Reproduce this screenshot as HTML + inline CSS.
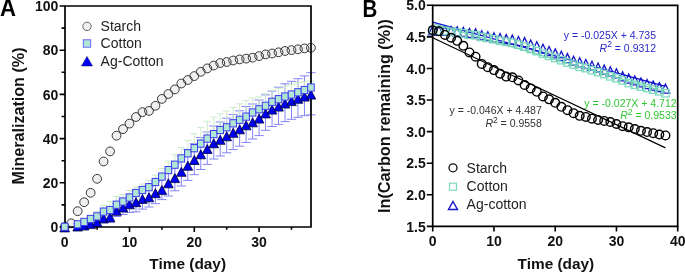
<!DOCTYPE html>
<html><head><meta charset="utf-8"><style>
html,body{margin:0;padding:0;background:#fff;overflow:hidden;}
svg{display:block;will-change:transform;}
</style></head><body>
<svg width="685" height="274" viewBox="0 0 685 274" font-family="'Liberation Sans', sans-serif">
<rect width="685" height="274" fill="#fff"/>
<circle cx="64.7" cy="227" r="4.4" fill="#f0f0f0"/>
<circle cx="71.18" cy="223.3" r="4.4" fill="#f0f0f0"/>
<circle cx="77.66" cy="211.2" r="4.4" fill="#f0f0f0"/>
<circle cx="84.14" cy="202.2" r="4.4" fill="#f0f0f0"/>
<circle cx="90.62" cy="192.8" r="4.4" fill="#f0f0f0"/>
<circle cx="97.1" cy="178.8" r="4.4" fill="#f0f0f0"/>
<circle cx="103.58" cy="161.5" r="4.4" fill="#f0f0f0"/>
<circle cx="110.06" cy="151.4" r="4.4" fill="#f0f0f0"/>
<circle cx="116.54" cy="135.7" r="4.4" fill="#f0f0f0"/>
<circle cx="123.02" cy="129.1" r="4.4" fill="#f0f0f0"/>
<circle cx="129.5" cy="123.6" r="4.4" fill="#f0f0f0"/>
<circle cx="135.98" cy="117" r="4.4" fill="#f0f0f0"/>
<circle cx="142.46" cy="112.1" r="4.4" fill="#f0f0f0"/>
<circle cx="148.94" cy="110.9" r="4.4" fill="#f0f0f0"/>
<circle cx="155.42" cy="105.8" r="4.4" fill="#f0f0f0"/>
<circle cx="161.9" cy="98.9" r="4.4" fill="#f0f0f0"/>
<circle cx="168.38" cy="94" r="4.4" fill="#f0f0f0"/>
<circle cx="174.86" cy="89.4" r="4.4" fill="#f0f0f0"/>
<circle cx="181.34" cy="83.5" r="4.4" fill="#f0f0f0"/>
<circle cx="187.82" cy="80" r="4.4" fill="#f0f0f0"/>
<circle cx="194.3" cy="76.1" r="4.4" fill="#f0f0f0"/>
<circle cx="200.78" cy="71.8" r="4.4" fill="#f0f0f0"/>
<circle cx="207.26" cy="68.4" r="4.4" fill="#f0f0f0"/>
<circle cx="213.74" cy="65.5" r="4.4" fill="#f0f0f0"/>
<circle cx="220.22" cy="63" r="4.4" fill="#f0f0f0"/>
<circle cx="226.7" cy="62" r="4.4" fill="#f0f0f0"/>
<circle cx="233.18" cy="60.5" r="4.4" fill="#f0f0f0"/>
<circle cx="239.66" cy="59.4" r="4.4" fill="#f0f0f0"/>
<circle cx="246.14" cy="58.6" r="4.4" fill="#f0f0f0"/>
<circle cx="252.62" cy="57.7" r="4.4" fill="#f0f0f0"/>
<circle cx="259.1" cy="56.1" r="4.4" fill="#f0f0f0"/>
<circle cx="265.58" cy="54.4" r="4.4" fill="#f0f0f0"/>
<circle cx="272.06" cy="53.5" r="4.4" fill="#f0f0f0"/>
<circle cx="278.54" cy="52.3" r="4.4" fill="#f0f0f0"/>
<circle cx="285.02" cy="51" r="4.4" fill="#f0f0f0"/>
<circle cx="291.5" cy="50.1" r="4.4" fill="#f0f0f0"/>
<circle cx="297.98" cy="49.3" r="4.4" fill="#f0f0f0"/>
<circle cx="304.46" cy="48.4" r="4.4" fill="#f0f0f0"/>
<circle cx="310.94" cy="47.8" r="4.4" fill="#f0f0f0"/>
<circle cx="64.7" cy="227" r="4.4" fill="none" stroke="#383838" stroke-width="1"/>
<circle cx="71.18" cy="223.3" r="4.4" fill="none" stroke="#383838" stroke-width="1"/>
<circle cx="77.66" cy="211.2" r="4.4" fill="none" stroke="#383838" stroke-width="1"/>
<circle cx="84.14" cy="202.2" r="4.4" fill="none" stroke="#383838" stroke-width="1"/>
<circle cx="90.62" cy="192.8" r="4.4" fill="none" stroke="#383838" stroke-width="1"/>
<circle cx="97.1" cy="178.8" r="4.4" fill="none" stroke="#383838" stroke-width="1"/>
<circle cx="103.58" cy="161.5" r="4.4" fill="none" stroke="#383838" stroke-width="1"/>
<circle cx="110.06" cy="151.4" r="4.4" fill="none" stroke="#383838" stroke-width="1"/>
<circle cx="116.54" cy="135.7" r="4.4" fill="none" stroke="#383838" stroke-width="1"/>
<circle cx="123.02" cy="129.1" r="4.4" fill="none" stroke="#383838" stroke-width="1"/>
<circle cx="129.5" cy="123.6" r="4.4" fill="none" stroke="#383838" stroke-width="1"/>
<circle cx="135.98" cy="117" r="4.4" fill="none" stroke="#383838" stroke-width="1"/>
<circle cx="142.46" cy="112.1" r="4.4" fill="none" stroke="#383838" stroke-width="1"/>
<circle cx="148.94" cy="110.9" r="4.4" fill="none" stroke="#383838" stroke-width="1"/>
<circle cx="155.42" cy="105.8" r="4.4" fill="none" stroke="#383838" stroke-width="1"/>
<circle cx="161.9" cy="98.9" r="4.4" fill="none" stroke="#383838" stroke-width="1"/>
<circle cx="168.38" cy="94" r="4.4" fill="none" stroke="#383838" stroke-width="1"/>
<circle cx="174.86" cy="89.4" r="4.4" fill="none" stroke="#383838" stroke-width="1"/>
<circle cx="181.34" cy="83.5" r="4.4" fill="none" stroke="#383838" stroke-width="1"/>
<circle cx="187.82" cy="80" r="4.4" fill="none" stroke="#383838" stroke-width="1"/>
<circle cx="194.3" cy="76.1" r="4.4" fill="none" stroke="#383838" stroke-width="1"/>
<circle cx="200.78" cy="71.8" r="4.4" fill="none" stroke="#383838" stroke-width="1"/>
<circle cx="207.26" cy="68.4" r="4.4" fill="none" stroke="#383838" stroke-width="1"/>
<circle cx="213.74" cy="65.5" r="4.4" fill="none" stroke="#383838" stroke-width="1"/>
<circle cx="220.22" cy="63" r="4.4" fill="none" stroke="#383838" stroke-width="1"/>
<circle cx="226.7" cy="62" r="4.4" fill="none" stroke="#383838" stroke-width="1"/>
<circle cx="233.18" cy="60.5" r="4.4" fill="none" stroke="#383838" stroke-width="1"/>
<circle cx="239.66" cy="59.4" r="4.4" fill="none" stroke="#383838" stroke-width="1"/>
<circle cx="246.14" cy="58.6" r="4.4" fill="none" stroke="#383838" stroke-width="1"/>
<circle cx="252.62" cy="57.7" r="4.4" fill="none" stroke="#383838" stroke-width="1"/>
<circle cx="259.1" cy="56.1" r="4.4" fill="none" stroke="#383838" stroke-width="1"/>
<circle cx="265.58" cy="54.4" r="4.4" fill="none" stroke="#383838" stroke-width="1"/>
<circle cx="272.06" cy="53.5" r="4.4" fill="none" stroke="#383838" stroke-width="1"/>
<circle cx="278.54" cy="52.3" r="4.4" fill="none" stroke="#383838" stroke-width="1"/>
<circle cx="285.02" cy="51" r="4.4" fill="none" stroke="#383838" stroke-width="1"/>
<circle cx="291.5" cy="50.1" r="4.4" fill="none" stroke="#383838" stroke-width="1"/>
<circle cx="297.98" cy="49.3" r="4.4" fill="none" stroke="#383838" stroke-width="1"/>
<circle cx="304.46" cy="48.4" r="4.4" fill="none" stroke="#383838" stroke-width="1"/>
<circle cx="310.94" cy="47.8" r="4.4" fill="none" stroke="#383838" stroke-width="1"/>
<path d="M77.66 223.7V227.7M73.06 223.7H82.26M73.06 227.7H82.26M84.14 221.7V227.7M79.54 221.7H88.74M79.54 227.7H88.74M90.62 219.3V227.3M86.02 219.3H95.22M86.02 227.3H95.22M97.1 216.3V226.3M92.5 216.3H101.7M92.5 226.3H101.7M103.58 212V223M98.98 212H108.18M98.98 223H108.18M110.06 210.4V222.4M105.46 210.4H114.66M105.46 222.4H114.66M116.54 203.5V216.5M111.94 203.5H121.14M111.94 216.5H121.14M123.02 198.9V214.5M118.42 198.9H127.62M118.42 214.5H127.62M129.5 194.5V212.5M124.9 194.5H134.1M124.9 212.5H134.1M135.98 190.9V211.9M131.38 190.9H140.58M131.38 211.9H140.58M142.46 187.1V209.1M137.86 187.1H147.06M137.86 209.1H147.06M148.94 186V207M144.34 186H153.54M144.34 207H153.54M155.42 181.1V203.7M150.82 181.1H160.02M150.82 203.7H160.02M161.9 178.6V199.6M157.3 178.6H166.5M157.3 199.6H166.5M168.38 169V196M163.78 169H172.98M163.78 196H172.98M174.86 163.8V190.8M170.26 163.8H179.46M170.26 190.8H179.46M181.34 156V186M176.74 156H185.94M176.74 186H185.94M187.82 149.4V180.4M183.22 149.4H192.42M183.22 180.4H192.42M194.3 143.7V174.7M189.7 143.7H198.9M189.7 174.7H198.9M200.78 137.5V169.5M196.18 137.5H205.38M196.18 169.5H205.38M207.26 132V164.4M202.66 132H211.86M202.66 164.4H211.86M213.74 126V159M209.14 126H218.34M209.14 159H218.34M220.22 122V156M215.62 122H224.82M215.62 156H224.82M226.7 118.2V152.8M222.1 118.2H231.3M222.1 152.8H231.3M233.18 114.4V149.6M228.58 114.4H237.78M228.58 149.6H237.78M239.66 110.8V146.2M235.06 110.8H244.26M235.06 146.2H244.26M246.14 106.5V142.5M241.54 106.5H250.74M241.54 142.5H250.74M252.62 104V139M248.02 104H257.22M248.02 139H257.22M259.1 100V135.6M254.5 100H263.7M254.5 135.6H263.7M265.58 94.9V130.3M260.98 94.9H270.18M260.98 130.3H270.18M272.06 91.1V126.5M267.46 91.1H276.66M267.46 126.5H276.66M278.54 87.2V124.4M273.94 87.2H283.14M273.94 124.4H283.14M285.02 83.8V121.6M280.42 83.8H289.62M280.42 121.6H289.62M291.5 81.3V119.3M286.9 81.3H296.1M286.9 119.3H296.1M297.98 78.7V117.3M293.38 78.7H302.58M293.38 117.3H302.58M304.46 75.9V115.7M299.86 75.9H309.06M299.86 115.7H309.06M310.94 72.7V114.9M306.34 72.7H315.54M306.34 114.9H315.54" stroke="#8484f6" stroke-width="1" fill="none"/>
<path d="M97.1 211.4V216.4M93.4 211.4H100.8M103.58 205.3V211.6M99.88 205.3H107.28M110.06 201.4V210M106.36 201.4H113.76M116.54 196.5V204.7M112.84 196.5H120.24M123.02 194.3V201.5M119.32 194.3H126.72M129.5 190.5V197.5M125.8 190.5H133.2M135.98 187V193M132.28 187H139.68M142.46 184V190M138.76 184H146.16M148.94 180.7V187.2M145.24 180.7H152.64M155.42 175V182M151.72 175H159.12M161.9 168.6V176.6M158.2 168.6H165.6M168.38 161.1V170.1M164.68 161.1H172.08M174.86 154.7V164.7M171.16 154.7H178.56M181.34 147.7V158.4M177.64 147.7H185.04M187.82 140.3V153.3M184.12 140.3H191.52M194.3 133.8V148.2M190.6 133.8H198M200.78 127.4V143.6M197.08 127.4H204.48M207.26 121.3V138.6M203.56 121.3H210.96M213.74 117.1V134.1M210.04 117.1H217.44M220.22 113.8V130M216.52 113.8H223.92M226.7 111.1V127.3M223 111.1H230.4M233.18 107.3V123.3M229.48 107.3H236.88M239.66 103.8V119.8M235.96 103.8H243.36M246.14 100.5V116.6M242.44 100.5H249.84M252.62 98.1V112.5M248.92 98.1H256.32M259.1 96.8V109.3M255.4 96.8H262.8M265.58 93.8V105.8M261.88 93.8H269.28M272.06 90.3V101.8M268.36 90.3H275.76M278.54 88.2V99.2M274.84 88.2H282.24M285.02 86V96.5M281.32 86H288.72M291.5 84.5V94.5M287.8 84.5H295.2M297.98 82.7V92.3M294.28 82.7H301.68M304.46 81.7V90M300.76 81.7H308.16M310.94 81V87.5M307.24 81H314.64" stroke="#cbeccb" stroke-width="1" fill="none"/>
<path d="M65 6V227H311V6Z" fill="none" stroke="#000" stroke-width="1.7"/>
<path d="M59.6 227H65M61.6 204.9H65M59.6 182.8H65M61.6 160.7H65M59.6 138.6H65M61.6 116.5H65M59.6 94.4H65M61.6 72.3H65M59.6 50.2H65M61.6 28.1H65M59.6 6H65M64.7 227V232M97.1 227V229.8M129.5 227V232M161.9 227V229.8M194.3 227V232M226.7 227V229.8M259.1 227V232M291.5 227V229.8" stroke="#000" stroke-width="1.6" fill="none"/>
<text x="58.3" y="232.1" font-size="14" font-weight="bold" text-anchor="end" fill="#111">0</text>
<text x="58.3" y="187.9" font-size="14" font-weight="bold" text-anchor="end" fill="#111">20</text>
<text x="58.3" y="143.7" font-size="14" font-weight="bold" text-anchor="end" fill="#111">40</text>
<text x="58.3" y="99.5" font-size="14" font-weight="bold" text-anchor="end" fill="#111">60</text>
<text x="58.3" y="55.3" font-size="14" font-weight="bold" text-anchor="end" fill="#111">80</text>
<text x="58.3" y="11.1" font-size="14" font-weight="bold" text-anchor="end" fill="#111">100</text>
<text x="64.7" y="246.6" font-size="14" font-weight="bold" text-anchor="middle" fill="#111">0</text>
<text x="129.5" y="246.6" font-size="14" font-weight="bold" text-anchor="middle" fill="#111">10</text>
<text x="194.3" y="246.6" font-size="14" font-weight="bold" text-anchor="middle" fill="#111">20</text>
<text x="259.1" y="246.6" font-size="14" font-weight="bold" text-anchor="middle" fill="#111">30</text>
<text x="187.7" y="269.2" font-size="15.4" font-weight="bold" text-anchor="middle" fill="#111">Time (day)</text>
<text transform="translate(23.8 116) rotate(-90)" x="0" y="0" font-size="16" font-weight="bold" text-anchor="middle" textLength="137" lengthAdjust="spacingAndGlyphs" fill="#111">Mineralization (%)</text>
<text x="0" y="15.8" font-size="23.2" font-weight="bold" fill="#000" textLength="16" lengthAdjust="spacingAndGlyphs">A</text>
<path d="M64.7 222.9L69.5 231.9L59.9 231.9Z" fill="#0000f0" stroke="#00003c" stroke-width="0.8"/>
<path d="M77.66 222L82.46 231L72.86 231Z" fill="#0000f0" stroke="#00003c" stroke-width="0.8"/>
<path d="M84.14 221L88.94 230L79.34 230Z" fill="#0000f0" stroke="#00003c" stroke-width="0.8"/>
<path d="M90.62 219.6L95.42 228.6L85.82 228.6Z" fill="#0000f0" stroke="#00003c" stroke-width="0.8"/>
<path d="M97.1 217.6L101.9 226.6L92.3 226.6Z" fill="#0000f0" stroke="#00003c" stroke-width="0.8"/>
<path d="M103.58 213.8L108.38 222.8L98.78 222.8Z" fill="#0000f0" stroke="#00003c" stroke-width="0.8"/>
<path d="M110.06 212.7L114.86 221.7L105.26 221.7Z" fill="#0000f0" stroke="#00003c" stroke-width="0.8"/>
<path d="M116.54 206.3L121.34 215.3L111.74 215.3Z" fill="#0000f0" stroke="#00003c" stroke-width="0.8"/>
<path d="M123.02 203L127.82 212L118.22 212Z" fill="#0000f0" stroke="#00003c" stroke-width="0.8"/>
<path d="M129.5 199.8L134.3 208.8L124.7 208.8Z" fill="#0000f0" stroke="#00003c" stroke-width="0.8"/>
<path d="M135.98 197.7L140.78 206.7L131.18 206.7Z" fill="#0000f0" stroke="#00003c" stroke-width="0.8"/>
<path d="M142.46 194.4L147.26 203.4L137.66 203.4Z" fill="#0000f0" stroke="#00003c" stroke-width="0.8"/>
<path d="M148.94 192.8L153.74 201.8L144.14 201.8Z" fill="#0000f0" stroke="#00003c" stroke-width="0.8"/>
<path d="M155.42 188.7L160.22 197.7L150.62 197.7Z" fill="#0000f0" stroke="#00003c" stroke-width="0.8"/>
<path d="M161.9 185.4L166.7 194.4L157.1 194.4Z" fill="#0000f0" stroke="#00003c" stroke-width="0.8"/>
<path d="M168.38 178.8L173.18 187.8L163.58 187.8Z" fill="#0000f0" stroke="#00003c" stroke-width="0.8"/>
<path d="M174.86 173.6L179.66 182.6L170.06 182.6Z" fill="#0000f0" stroke="#00003c" stroke-width="0.8"/>
<path d="M181.34 167.3L186.14 176.3L176.54 176.3Z" fill="#0000f0" stroke="#00003c" stroke-width="0.8"/>
<path d="M187.82 161.2L192.62 170.2L183.02 170.2Z" fill="#0000f0" stroke="#00003c" stroke-width="0.8"/>
<path d="M194.3 155.5L199.1 164.5L189.5 164.5Z" fill="#0000f0" stroke="#00003c" stroke-width="0.8"/>
<path d="M200.78 149.8L205.58 158.8L195.98 158.8Z" fill="#0000f0" stroke="#00003c" stroke-width="0.8"/>
<path d="M207.26 144.5L212.06 153.5L202.46 153.5Z" fill="#0000f0" stroke="#00003c" stroke-width="0.8"/>
<path d="M213.74 138.8L218.54 147.8L208.94 147.8Z" fill="#0000f0" stroke="#00003c" stroke-width="0.8"/>
<path d="M220.22 135.3L225.02 144.3L215.42 144.3Z" fill="#0000f0" stroke="#00003c" stroke-width="0.8"/>
<path d="M226.7 131.8L231.5 140.8L221.9 140.8Z" fill="#0000f0" stroke="#00003c" stroke-width="0.8"/>
<path d="M233.18 128.3L237.98 137.3L228.38 137.3Z" fill="#0000f0" stroke="#00003c" stroke-width="0.8"/>
<path d="M239.66 124.8L244.46 133.8L234.86 133.8Z" fill="#0000f0" stroke="#00003c" stroke-width="0.8"/>
<path d="M246.14 120.8L250.94 129.8L241.34 129.8Z" fill="#0000f0" stroke="#00003c" stroke-width="0.8"/>
<path d="M252.62 117.8L257.42 126.8L247.82 126.8Z" fill="#0000f0" stroke="#00003c" stroke-width="0.8"/>
<path d="M259.1 114.1L263.9 123.1L254.3 123.1Z" fill="#0000f0" stroke="#00003c" stroke-width="0.8"/>
<path d="M265.58 108.9L270.38 117.9L260.78 117.9Z" fill="#0000f0" stroke="#00003c" stroke-width="0.8"/>
<path d="M272.06 105.1L276.86 114.1L267.26 114.1Z" fill="#0000f0" stroke="#00003c" stroke-width="0.8"/>
<path d="M278.54 102.1L283.34 111.1L273.74 111.1Z" fill="#0000f0" stroke="#00003c" stroke-width="0.8"/>
<path d="M285.02 99L289.82 108L280.22 108Z" fill="#0000f0" stroke="#00003c" stroke-width="0.8"/>
<path d="M291.5 96.6L296.3 105.6L286.7 105.6Z" fill="#0000f0" stroke="#00003c" stroke-width="0.8"/>
<path d="M297.98 94.3L302.78 103.3L293.18 103.3Z" fill="#0000f0" stroke="#00003c" stroke-width="0.8"/>
<path d="M304.46 92.1L309.26 101.1L299.66 101.1Z" fill="#0000f0" stroke="#00003c" stroke-width="0.8"/>
<path d="M310.94 90.1L315.74 99.1L306.14 99.1Z" fill="#0000f0" stroke="#00003c" stroke-width="0.8"/>
<rect x="61.4" y="223.2" width="6.6" height="7.2" fill="#b2e6d4" stroke="#3a3aee" stroke-width="1"/>
<rect x="74.36" y="220.7" width="6.6" height="7.2" fill="#b2e6d4" stroke="#3a3aee" stroke-width="1"/>
<rect x="80.84" y="218.3" width="6.6" height="7.2" fill="#b2e6d4" stroke="#3a3aee" stroke-width="1"/>
<rect x="87.32" y="215.4" width="6.6" height="7.2" fill="#b2e6d4" stroke="#3a3aee" stroke-width="1"/>
<rect x="93.8" y="212.8" width="6.6" height="7.2" fill="#b2e6d4" stroke="#3a3aee" stroke-width="1"/>
<rect x="100.28" y="208" width="6.6" height="7.2" fill="#b2e6d4" stroke="#3a3aee" stroke-width="1"/>
<rect x="106.76" y="206.4" width="6.6" height="7.2" fill="#b2e6d4" stroke="#3a3aee" stroke-width="1"/>
<rect x="113.24" y="201.1" width="6.6" height="7.2" fill="#b2e6d4" stroke="#3a3aee" stroke-width="1"/>
<rect x="119.72" y="197.9" width="6.6" height="7.2" fill="#b2e6d4" stroke="#3a3aee" stroke-width="1"/>
<rect x="126.2" y="193.9" width="6.6" height="7.2" fill="#b2e6d4" stroke="#3a3aee" stroke-width="1"/>
<rect x="132.68" y="189.4" width="6.6" height="7.2" fill="#b2e6d4" stroke="#3a3aee" stroke-width="1"/>
<rect x="139.16" y="186.4" width="6.6" height="7.2" fill="#b2e6d4" stroke="#3a3aee" stroke-width="1"/>
<rect x="145.64" y="183.6" width="6.6" height="7.2" fill="#b2e6d4" stroke="#3a3aee" stroke-width="1"/>
<rect x="152.12" y="178.4" width="6.6" height="7.2" fill="#b2e6d4" stroke="#3a3aee" stroke-width="1"/>
<rect x="158.6" y="173" width="6.6" height="7.2" fill="#b2e6d4" stroke="#3a3aee" stroke-width="1"/>
<rect x="165.08" y="166.5" width="6.6" height="7.2" fill="#b2e6d4" stroke="#3a3aee" stroke-width="1"/>
<rect x="171.56" y="161.1" width="6.6" height="7.2" fill="#b2e6d4" stroke="#3a3aee" stroke-width="1"/>
<rect x="178.04" y="154.8" width="6.6" height="7.2" fill="#b2e6d4" stroke="#3a3aee" stroke-width="1"/>
<rect x="184.52" y="149.7" width="6.6" height="7.2" fill="#b2e6d4" stroke="#3a3aee" stroke-width="1"/>
<rect x="191" y="144.6" width="6.6" height="7.2" fill="#b2e6d4" stroke="#3a3aee" stroke-width="1"/>
<rect x="197.48" y="140" width="6.6" height="7.2" fill="#b2e6d4" stroke="#3a3aee" stroke-width="1"/>
<rect x="203.96" y="135" width="6.6" height="7.2" fill="#b2e6d4" stroke="#3a3aee" stroke-width="1"/>
<rect x="210.44" y="130.5" width="6.6" height="7.2" fill="#b2e6d4" stroke="#3a3aee" stroke-width="1"/>
<rect x="216.92" y="126.4" width="6.6" height="7.2" fill="#b2e6d4" stroke="#3a3aee" stroke-width="1"/>
<rect x="223.4" y="123.7" width="6.6" height="7.2" fill="#b2e6d4" stroke="#3a3aee" stroke-width="1"/>
<rect x="229.88" y="119.7" width="6.6" height="7.2" fill="#b2e6d4" stroke="#3a3aee" stroke-width="1"/>
<rect x="236.36" y="116.2" width="6.6" height="7.2" fill="#b2e6d4" stroke="#3a3aee" stroke-width="1"/>
<rect x="242.84" y="113" width="6.6" height="7.2" fill="#b2e6d4" stroke="#3a3aee" stroke-width="1"/>
<rect x="249.32" y="108.9" width="6.6" height="7.2" fill="#b2e6d4" stroke="#3a3aee" stroke-width="1"/>
<rect x="255.8" y="105.7" width="6.6" height="7.2" fill="#b2e6d4" stroke="#3a3aee" stroke-width="1"/>
<rect x="262.28" y="102.2" width="6.6" height="7.2" fill="#b2e6d4" stroke="#3a3aee" stroke-width="1"/>
<rect x="268.76" y="98.2" width="6.6" height="7.2" fill="#b2e6d4" stroke="#3a3aee" stroke-width="1"/>
<rect x="275.24" y="95.6" width="6.6" height="7.2" fill="#b2e6d4" stroke="#3a3aee" stroke-width="1"/>
<rect x="281.72" y="92.9" width="6.6" height="7.2" fill="#b2e6d4" stroke="#3a3aee" stroke-width="1"/>
<rect x="288.2" y="90.9" width="6.6" height="7.2" fill="#b2e6d4" stroke="#3a3aee" stroke-width="1"/>
<rect x="294.68" y="88.7" width="6.6" height="7.2" fill="#b2e6d4" stroke="#3a3aee" stroke-width="1"/>
<rect x="301.16" y="86.4" width="6.6" height="7.2" fill="#b2e6d4" stroke="#3a3aee" stroke-width="1"/>
<rect x="307.64" y="83.9" width="6.6" height="7.2" fill="#b2e6d4" stroke="#3a3aee" stroke-width="1"/>
<circle cx="87" cy="26.4" r="4.2" fill="#efefef" stroke="#555" stroke-width="0.9"/>
<rect x="83.3" y="39.8" width="7.4" height="7.4" fill="#b2e6d4" stroke="#5a5aff" stroke-width="0.9"/>
<path d="M87 56.45L92.5 65.95L81.5 65.95Z" fill="#0000f0" stroke="#000060" stroke-width="0.5"/>
<text x="100.6" y="31.2" font-size="14" fill="#222">Starch</text>
<text x="100.6" y="48.3" font-size="14" fill="#222">Cotton</text>
<text x="100.6" y="65.5" font-size="14" fill="#222">Ag-Cotton</text>
<g>
<path d="M432.7 25.75L437 34.75L428.4 34.75Z" fill="none" stroke="#1414c4" stroke-width="1.3"/>
<path d="M438.82 26.03L443.12 35.03L434.52 35.03Z" fill="none" stroke="#1414c4" stroke-width="1.3"/>
<path d="M444.95 26.12L449.25 35.12L440.65 35.12Z" fill="none" stroke="#1414c4" stroke-width="1.3"/>
<path d="M451.07 26.41L455.38 35.41L446.77 35.41Z" fill="none" stroke="#1414c4" stroke-width="1.3"/>
<path d="M457.2 26.81L461.5 35.81L452.9 35.81Z" fill="none" stroke="#1414c4" stroke-width="1.3"/>
<path d="M463.32 27.4L467.62 36.4L459.02 36.4Z" fill="none" stroke="#1414c4" stroke-width="1.3"/>
<path d="M469.45 28.52L473.75 37.52L465.15 37.52Z" fill="none" stroke="#1414c4" stroke-width="1.3"/>
<path d="M475.57 28.85L479.88 37.85L471.27 37.85Z" fill="none" stroke="#1414c4" stroke-width="1.3"/>
<path d="M481.7 30.8L486 39.8L477.4 39.8Z" fill="none" stroke="#1414c4" stroke-width="1.3"/>
<path d="M487.82 31.83L492.12 40.83L483.52 40.83Z" fill="none" stroke="#1414c4" stroke-width="1.3"/>
<path d="M493.95 32.85L498.25 41.85L489.65 41.85Z" fill="none" stroke="#1414c4" stroke-width="1.3"/>
<path d="M500.07 33.52L504.38 42.52L495.77 42.52Z" fill="none" stroke="#1414c4" stroke-width="1.3"/>
<path d="M506.2 34.6L510.5 43.6L501.9 43.6Z" fill="none" stroke="#1414c4" stroke-width="1.3"/>
<path d="M512.33 35.13L516.62 44.13L508.03 44.13Z" fill="none" stroke="#1414c4" stroke-width="1.3"/>
<path d="M518.45 36.5L522.75 45.5L514.15 45.5Z" fill="none" stroke="#1414c4" stroke-width="1.3"/>
<path d="M524.58 37.63L528.88 46.63L520.28 46.63Z" fill="none" stroke="#1414c4" stroke-width="1.3"/>
<path d="M530.7 39.95L535 48.95L526.4 48.95Z" fill="none" stroke="#1414c4" stroke-width="1.3"/>
<path d="M536.83 41.84L541.12 50.84L532.53 50.84Z" fill="none" stroke="#1414c4" stroke-width="1.3"/>
<path d="M542.95 44.21L547.25 53.21L538.65 53.21Z" fill="none" stroke="#1414c4" stroke-width="1.3"/>
<path d="M549.08 46.59L553.38 55.59L544.78 55.59Z" fill="none" stroke="#1414c4" stroke-width="1.3"/>
<path d="M555.2 48.89L559.5 57.89L550.9 57.89Z" fill="none" stroke="#1414c4" stroke-width="1.3"/>
<path d="M561.33 51.29L565.62 60.29L557.03 60.29Z" fill="none" stroke="#1414c4" stroke-width="1.3"/>
<path d="M567.45 53.6L571.75 62.6L563.15 62.6Z" fill="none" stroke="#1414c4" stroke-width="1.3"/>
<path d="M573.58 56.18L577.88 65.18L569.28 65.18Z" fill="none" stroke="#1414c4" stroke-width="1.3"/>
<path d="M579.7 57.82L584 66.82L575.4 66.82Z" fill="none" stroke="#1414c4" stroke-width="1.3"/>
<path d="M585.83 59.51L590.12 68.51L581.53 68.51Z" fill="none" stroke="#1414c4" stroke-width="1.3"/>
<path d="M591.95 61.24L596.25 70.24L587.65 70.24Z" fill="none" stroke="#1414c4" stroke-width="1.3"/>
<path d="M598.08 63.02L602.38 72.02L593.78 72.02Z" fill="none" stroke="#1414c4" stroke-width="1.3"/>
<path d="M604.2 65.12L608.5 74.12L599.9 74.12Z" fill="none" stroke="#1414c4" stroke-width="1.3"/>
<path d="M610.33 66.74L614.62 75.74L606.03 75.74Z" fill="none" stroke="#1414c4" stroke-width="1.3"/>
<path d="M616.45 68.79L620.75 77.79L612.15 77.79Z" fill="none" stroke="#1414c4" stroke-width="1.3"/>
<path d="M622.58 71.8L626.88 80.8L618.28 80.8Z" fill="none" stroke="#1414c4" stroke-width="1.3"/>
<path d="M628.7 74.1L633 83.1L624.4 83.1Z" fill="none" stroke="#1414c4" stroke-width="1.3"/>
<path d="M634.83 75.97L639.12 84.97L630.53 84.97Z" fill="none" stroke="#1414c4" stroke-width="1.3"/>
<path d="M640.95 77.96L645.25 86.96L636.65 86.96Z" fill="none" stroke="#1414c4" stroke-width="1.3"/>
<path d="M647.08 79.55L651.38 88.55L642.78 88.55Z" fill="none" stroke="#1414c4" stroke-width="1.3"/>
<path d="M653.2 81.11L657.5 90.11L648.9 90.11Z" fill="none" stroke="#1414c4" stroke-width="1.3"/>
<path d="M659.33 82.64L663.62 91.64L655.03 91.64Z" fill="none" stroke="#1414c4" stroke-width="1.3"/>
<path d="M665.45 84.06L669.75 93.06L661.15 93.06Z" fill="none" stroke="#1414c4" stroke-width="1.3"/>
<path d="M432.7 22.19L665.45 86.33" stroke="#1010d0" stroke-width="1.2"/>
<rect x="429" y="26.55" width="7.4" height="7.4" fill="none" stroke="#80dcc0" stroke-width="1.3"/>
<rect x="435.12" y="26.98" width="7.4" height="7.4" fill="none" stroke="#80dcc0" stroke-width="1.3"/>
<rect x="441.25" y="27.32" width="7.4" height="7.4" fill="none" stroke="#80dcc0" stroke-width="1.3"/>
<rect x="447.38" y="28.02" width="7.4" height="7.4" fill="none" stroke="#80dcc0" stroke-width="1.3"/>
<rect x="453.5" y="28.88" width="7.4" height="7.4" fill="none" stroke="#80dcc0" stroke-width="1.3"/>
<rect x="459.62" y="29.65" width="7.4" height="7.4" fill="none" stroke="#80dcc0" stroke-width="1.3"/>
<rect x="465.75" y="31.11" width="7.4" height="7.4" fill="none" stroke="#80dcc0" stroke-width="1.3"/>
<rect x="471.88" y="31.6" width="7.4" height="7.4" fill="none" stroke="#80dcc0" stroke-width="1.3"/>
<rect x="478" y="33.27" width="7.4" height="7.4" fill="none" stroke="#80dcc0" stroke-width="1.3"/>
<rect x="484.12" y="34.29" width="7.4" height="7.4" fill="none" stroke="#80dcc0" stroke-width="1.3"/>
<rect x="490.25" y="35.6" width="7.4" height="7.4" fill="none" stroke="#80dcc0" stroke-width="1.3"/>
<rect x="496.38" y="37.1" width="7.4" height="7.4" fill="none" stroke="#80dcc0" stroke-width="1.3"/>
<rect x="502.5" y="38.12" width="7.4" height="7.4" fill="none" stroke="#80dcc0" stroke-width="1.3"/>
<rect x="508.63" y="39.09" width="7.4" height="7.4" fill="none" stroke="#80dcc0" stroke-width="1.3"/>
<rect x="514.75" y="40.93" width="7.4" height="7.4" fill="none" stroke="#80dcc0" stroke-width="1.3"/>
<rect x="520.88" y="42.9" width="7.4" height="7.4" fill="none" stroke="#80dcc0" stroke-width="1.3"/>
<rect x="527" y="45.35" width="7.4" height="7.4" fill="none" stroke="#80dcc0" stroke-width="1.3"/>
<rect x="533.12" y="47.46" width="7.4" height="7.4" fill="none" stroke="#80dcc0" stroke-width="1.3"/>
<rect x="539.25" y="50.02" width="7.4" height="7.4" fill="none" stroke="#80dcc0" stroke-width="1.3"/>
<rect x="545.38" y="52.17" width="7.4" height="7.4" fill="none" stroke="#80dcc0" stroke-width="1.3"/>
<rect x="551.5" y="54.4" width="7.4" height="7.4" fill="none" stroke="#80dcc0" stroke-width="1.3"/>
<rect x="557.62" y="56.48" width="7.4" height="7.4" fill="none" stroke="#80dcc0" stroke-width="1.3"/>
<rect x="563.75" y="58.82" width="7.4" height="7.4" fill="none" stroke="#80dcc0" stroke-width="1.3"/>
<rect x="569.88" y="61" width="7.4" height="7.4" fill="none" stroke="#80dcc0" stroke-width="1.3"/>
<rect x="576" y="63.05" width="7.4" height="7.4" fill="none" stroke="#80dcc0" stroke-width="1.3"/>
<rect x="582.12" y="64.44" width="7.4" height="7.4" fill="none" stroke="#80dcc0" stroke-width="1.3"/>
<rect x="588.25" y="66.56" width="7.4" height="7.4" fill="none" stroke="#80dcc0" stroke-width="1.3"/>
<rect x="594.38" y="68.47" width="7.4" height="7.4" fill="none" stroke="#80dcc0" stroke-width="1.3"/>
<rect x="600.5" y="70.28" width="7.4" height="7.4" fill="none" stroke="#80dcc0" stroke-width="1.3"/>
<rect x="606.62" y="72.66" width="7.4" height="7.4" fill="none" stroke="#80dcc0" stroke-width="1.3"/>
<rect x="612.75" y="74.59" width="7.4" height="7.4" fill="none" stroke="#80dcc0" stroke-width="1.3"/>
<rect x="618.88" y="76.77" width="7.4" height="7.4" fill="none" stroke="#80dcc0" stroke-width="1.3"/>
<rect x="625" y="79.35" width="7.4" height="7.4" fill="none" stroke="#80dcc0" stroke-width="1.3"/>
<rect x="631.12" y="81.09" width="7.4" height="7.4" fill="none" stroke="#80dcc0" stroke-width="1.3"/>
<rect x="637.25" y="82.95" width="7.4" height="7.4" fill="none" stroke="#80dcc0" stroke-width="1.3"/>
<rect x="643.38" y="84.36" width="7.4" height="7.4" fill="none" stroke="#80dcc0" stroke-width="1.3"/>
<rect x="649.5" y="85.95" width="7.4" height="7.4" fill="none" stroke="#80dcc0" stroke-width="1.3"/>
<rect x="655.62" y="87.65" width="7.4" height="7.4" fill="none" stroke="#80dcc0" stroke-width="1.3"/>
<rect x="661.75" y="89.56" width="7.4" height="7.4" fill="none" stroke="#80dcc0" stroke-width="1.3"/>
<path d="M432.7 23.49L665.45 91.85" stroke="#70d4b4" stroke-width="1.2"/>
<circle cx="432.7" cy="30.25" r="4.3" fill="none" stroke="#000" stroke-width="1.4"/>
<circle cx="438.82" cy="31.31" r="4.3" fill="none" stroke="#000" stroke-width="1.4"/>
<circle cx="444.95" cy="34.93" r="4.3" fill="none" stroke="#000" stroke-width="1.4"/>
<circle cx="451.07" cy="37.77" r="4.3" fill="none" stroke="#000" stroke-width="1.4"/>
<circle cx="457.2" cy="40.87" r="4.3" fill="none" stroke="#000" stroke-width="1.4"/>
<circle cx="463.32" cy="45.79" r="4.3" fill="none" stroke="#000" stroke-width="1.4"/>
<circle cx="469.45" cy="52.45" r="4.3" fill="none" stroke="#000" stroke-width="1.4"/>
<circle cx="475.57" cy="56.69" r="4.3" fill="none" stroke="#000" stroke-width="1.4"/>
<circle cx="481.7" cy="63.91" r="4.3" fill="none" stroke="#000" stroke-width="1.4"/>
<circle cx="487.82" cy="67.21" r="4.3" fill="none" stroke="#000" stroke-width="1.4"/>
<circle cx="493.95" cy="70.1" r="4.3" fill="none" stroke="#000" stroke-width="1.4"/>
<circle cx="500.07" cy="73.75" r="4.3" fill="none" stroke="#000" stroke-width="1.4"/>
<circle cx="506.2" cy="76.6" r="4.3" fill="none" stroke="#000" stroke-width="1.4"/>
<circle cx="512.33" cy="77.32" r="4.3" fill="none" stroke="#000" stroke-width="1.4"/>
<circle cx="518.45" cy="80.47" r="4.3" fill="none" stroke="#000" stroke-width="1.4"/>
<circle cx="524.58" cy="84.99" r="4.3" fill="none" stroke="#000" stroke-width="1.4"/>
<circle cx="530.7" cy="88.41" r="4.3" fill="none" stroke="#000" stroke-width="1.4"/>
<circle cx="536.83" cy="91.81" r="4.3" fill="none" stroke="#000" stroke-width="1.4"/>
<circle cx="542.95" cy="96.44" r="4.3" fill="none" stroke="#000" stroke-width="1.4"/>
<circle cx="549.08" cy="99.36" r="4.3" fill="none" stroke="#000" stroke-width="1.4"/>
<circle cx="555.2" cy="102.78" r="4.3" fill="none" stroke="#000" stroke-width="1.4"/>
<circle cx="561.33" cy="106.78" r="4.3" fill="none" stroke="#000" stroke-width="1.4"/>
<circle cx="567.45" cy="110.13" r="4.3" fill="none" stroke="#000" stroke-width="1.4"/>
<circle cx="573.58" cy="113.14" r="4.3" fill="none" stroke="#000" stroke-width="1.4"/>
<circle cx="579.7" cy="115.85" r="4.3" fill="none" stroke="#000" stroke-width="1.4"/>
<circle cx="585.83" cy="116.97" r="4.3" fill="none" stroke="#000" stroke-width="1.4"/>
<circle cx="591.95" cy="118.68" r="4.3" fill="none" stroke="#000" stroke-width="1.4"/>
<circle cx="598.08" cy="119.97" r="4.3" fill="none" stroke="#000" stroke-width="1.4"/>
<circle cx="604.2" cy="120.92" r="4.3" fill="none" stroke="#000" stroke-width="1.4"/>
<circle cx="610.33" cy="122.01" r="4.3" fill="none" stroke="#000" stroke-width="1.4"/>
<circle cx="616.45" cy="124" r="4.3" fill="none" stroke="#000" stroke-width="1.4"/>
<circle cx="622.58" cy="126.18" r="4.3" fill="none" stroke="#000" stroke-width="1.4"/>
<circle cx="628.7" cy="127.37" r="4.3" fill="none" stroke="#000" stroke-width="1.4"/>
<circle cx="634.83" cy="128.98" r="4.3" fill="none" stroke="#000" stroke-width="1.4"/>
<circle cx="640.95" cy="130.78" r="4.3" fill="none" stroke="#000" stroke-width="1.4"/>
<circle cx="647.08" cy="132.06" r="4.3" fill="none" stroke="#000" stroke-width="1.4"/>
<circle cx="653.2" cy="133.21" r="4.3" fill="none" stroke="#000" stroke-width="1.4"/>
<circle cx="659.33" cy="134.54" r="4.3" fill="none" stroke="#000" stroke-width="1.4"/>
<circle cx="665.45" cy="135.44" r="4.3" fill="none" stroke="#000" stroke-width="1.4"/>
<path d="M432.7 37.76L665.45 147.89" stroke="#000" stroke-width="1.2"/>
</g>
<path d="M432.7 5.4V226.3H677.7V5.4Z" fill="none" stroke="#000" stroke-width="1.7"/>
<path d="M426.8 226.4H432.7M426.8 194.81H432.7M426.8 163.23H432.7M426.8 131.65H432.7M426.8 100.06H432.7M426.8 68.47H432.7M426.8 36.89H432.7M426.8 5.31H432.7M432.7 226.3V231.4M493.95 226.3V231.4M555.2 226.3V231.4M616.45 226.3V231.4M677.7 226.3V231.4" stroke="#000" stroke-width="1.6" fill="none"/>
<text x="425.8" y="231.5" font-size="14" font-weight="bold" text-anchor="end" fill="#111">1.5</text>
<text x="425.8" y="199.91" font-size="14" font-weight="bold" text-anchor="end" fill="#111">2.0</text>
<text x="425.8" y="168.33" font-size="14" font-weight="bold" text-anchor="end" fill="#111">2.5</text>
<text x="425.8" y="136.75" font-size="14" font-weight="bold" text-anchor="end" fill="#111">3.0</text>
<text x="425.8" y="105.16" font-size="14" font-weight="bold" text-anchor="end" fill="#111">3.5</text>
<text x="425.8" y="73.57" font-size="14" font-weight="bold" text-anchor="end" fill="#111">4.0</text>
<text x="425.8" y="41.99" font-size="14" font-weight="bold" text-anchor="end" fill="#111">4.5</text>
<text x="425.8" y="10.41" font-size="14" font-weight="bold" text-anchor="end" fill="#111">5.0</text>
<text x="432.7" y="246.4" font-size="14" font-weight="bold" text-anchor="middle" fill="#111">0</text>
<text x="493.95" y="246.4" font-size="14" font-weight="bold" text-anchor="middle" fill="#111">10</text>
<text x="555.2" y="246.4" font-size="14" font-weight="bold" text-anchor="middle" fill="#111">20</text>
<text x="616.45" y="246.4" font-size="14" font-weight="bold" text-anchor="middle" fill="#111">30</text>
<text x="677.7" y="246.4" font-size="14" font-weight="bold" text-anchor="middle" fill="#111">40</text>
<text x="555.9" y="269.2" font-size="15.4" font-weight="bold" text-anchor="middle" fill="#111">Time (day)</text>
<text transform="translate(390 116) rotate(-90)" x="0" y="0" font-size="16" font-weight="bold" text-anchor="middle" textLength="194" lengthAdjust="spacingAndGlyphs" fill="#111">ln(Carbon remaining (%))</text>
<text x="362.5" y="16.6" font-size="23.2" font-weight="bold" fill="#000" textLength="14.8" lengthAdjust="spacingAndGlyphs">B</text>
<text x="656" y="39.2" font-size="10.5" text-anchor="end" fill="#2a2ac8">y = -0.025X + 4.735</text>
<text x="656" y="51.6" font-size="10.5" text-anchor="end" fill="#2a2ac8"><tspan font-style="italic">R</tspan><tspan font-size="8.5" dy="-4.6">2</tspan><tspan dy="4.6"> = 0.9312</tspan></text>
<text x="541.8" y="113.9" font-size="10.5" text-anchor="end" fill="#333">y = -0.046X + 4.487</text>
<text x="541.8" y="127.4" font-size="10.5" text-anchor="end" fill="#333"><tspan font-style="italic">R</tspan><tspan font-size="8.5" dy="-4.6">2</tspan><tspan dy="4.6"> = 0.9558</tspan></text>
<text x="676.6" y="106.8" font-size="10.5" text-anchor="end" fill="#30c830">y = -0.027X + 4.712</text>
<text x="676.6" y="119.4" font-size="10.5" text-anchor="end" fill="#30c830"><tspan font-style="italic">R</tspan><tspan font-size="8.5" dy="-4.6">2</tspan><tspan dy="4.6"> = 0.9533</tspan></text>
<circle cx="453" cy="167.8" r="4" fill="none" stroke="#111" stroke-width="1.3"/>
<rect x="449.5" y="183.2" width="7" height="7" fill="none" stroke="#7fd8c0" stroke-width="1.2"/>
<path d="M453 201.5L457.5 209.5L448.5 209.5Z" fill="none" stroke="#1414c8" stroke-width="1.4"/>
<text x="466.6" y="172.5" font-size="14" fill="#222">Starch</text>
<text x="466.6" y="191" font-size="14" fill="#222">Cotton</text>
<text x="466.6" y="209.4" font-size="14" fill="#222">Ag-cotton</text>
</svg>
</body></html>
